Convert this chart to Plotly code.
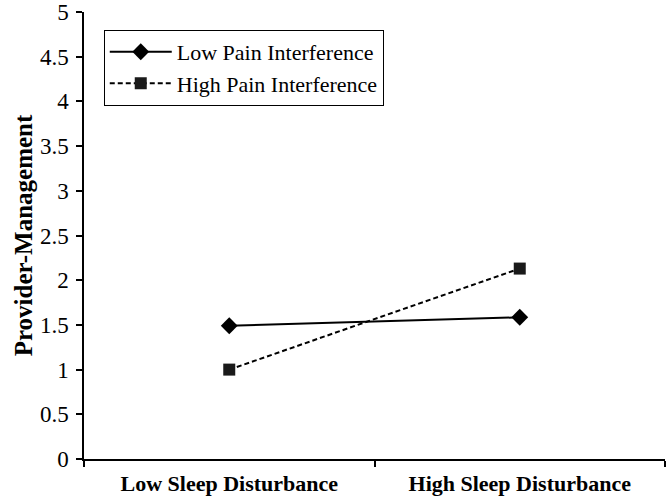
import plotly.graph_objects as go

categories = ["Low Sleep Disturbance", "High Sleep Disturbance"]
low_pain = [1.49, 1.585]
high_pain = [1.0, 2.13]
y_ticks = [0, 0.5, 1, 1.5, 2, 2.5, 3, 3.5, 4, 4.5, 5]
y_tick_text = ["0", "0.5", "1", "1.5", "2", "2.5", "3", "3.5", "4", "4.5", "5"]

font_family = "Liberation Serif, Times New Roman, serif"

fig = go.Figure()
fig.add_trace(go.Scatter(
    x=categories, y=low_pain, name="Low Pain Interference",
    mode="lines+markers",
    line=dict(color="black", width=2, dash="solid"),
    marker=dict(symbol="diamond", size=13, color="black"),
))
fig.add_trace(go.Scatter(
    x=categories, y=high_pain, name="High Pain Interference",
    mode="lines+markers",
    line=dict(color="black", width=2, dash="5px,3px"),
    marker=dict(symbol="square", size=12, color="#1a1a1a"),
))

fig.update_layout(
    width=667, height=498,
    margin=dict(l=84, r=2, t=12, b=39, autoexpand=False),
    paper_bgcolor="white", plot_bgcolor="white",
    font=dict(family=font_family, color="black", size=22),
    showlegend=True,
    legend=dict(
        x=0.034, y=0.96, xanchor="left", yanchor="top",
        bordercolor="black", borderwidth=1, bgcolor="white",
        font=dict(size=22, family=font_family),
        itemwidth=62, tracegroupgap=0,
    ),
    xaxis=dict(
        type="category", range=[-0.5, 1.5], automargin=False,
        showline=True, linecolor="black", linewidth=1.5,
        ticks="outside", ticklen=6, tickcolor="black", tickwidth=1.5,
        tickson="boundaries", showgrid=False, zeroline=False,
        ticklabelstandoff=4,
        tickfont=dict(size=22, family=font_family, weight="bold"),
    ),
    yaxis=dict(
        range=[0, 5], tickvals=y_ticks, ticktext=y_tick_text, automargin=False,
        showline=True, linecolor="black", linewidth=1.5,
        ticks="outside", ticklen=6, tickcolor="black", tickwidth=1.5,
        showgrid=False, zeroline=False,
        ticklabelstandoff=3,
        tickfont=dict(size=23, family=font_family),
        title=dict(text="Provider-Management", standoff=0,
                   font=dict(size=25, family=font_family, weight="bold")),
    ),
)

fig.write_html(
    "out.html",
    config={"displayModeBar": False},
    post_script="document.body.style.margin='0';document.body.style.overflow='hidden';",
)
